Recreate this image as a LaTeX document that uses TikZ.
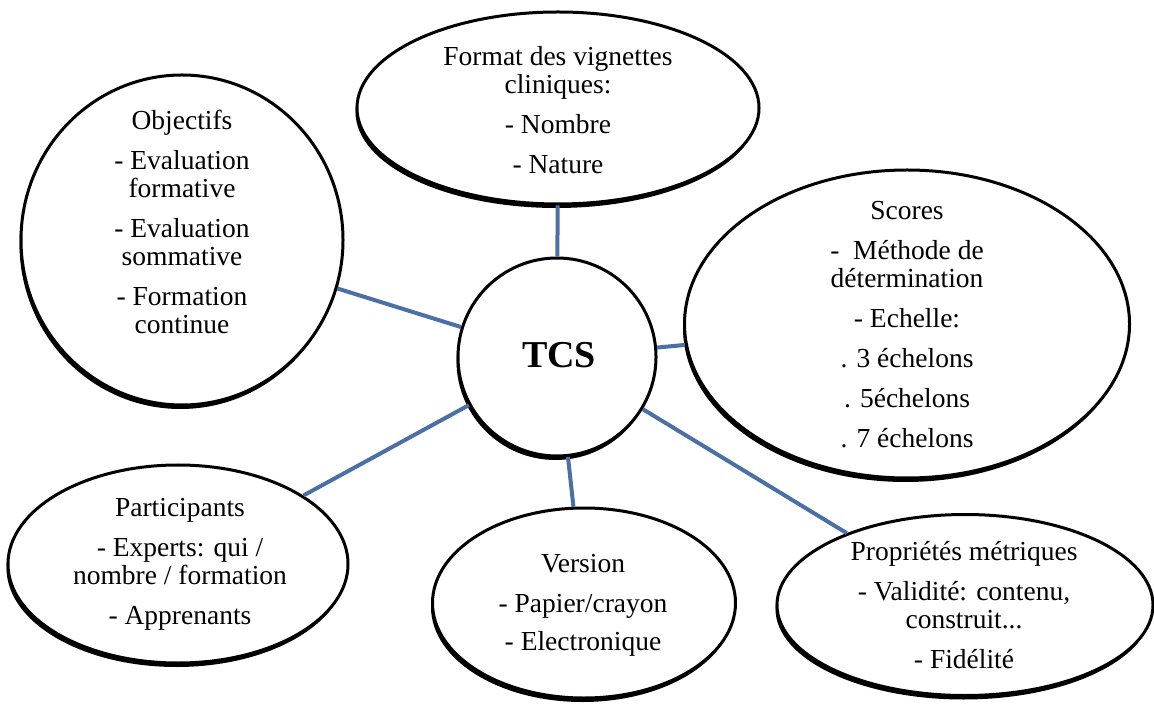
\documentclass[tikz,border=0pt]{standalone}
\usepackage{fontspec}
\setmainfont{Liberation Serif}
\usetikzlibrary{shapes.geometric,shadows}
\definecolor{lienbleu}{RGB}{74,112,165}

\begin{document}
\begin{tikzpicture}[x=0.5pt, y=-0.5pt,
    bulle/.style={shape=ellipse, draw=black, line width=1.5pt, fill=white, inner sep=0pt,
        drop shadow={shadow xshift=-0.75pt, shadow yshift=-2pt, fill=black, opacity=1}},
    texte/.style={align=center, inner sep=0pt, font=\fontsize{13.75}{14}\selectfont},
    lien/.style={draw=lienbleu, line width=2pt}]
    \useasboundingbox (0,0) rectangle (1154,704);
    \node[bulle, minimum width=201pt, minimum height=96pt] at (558,108) (Format) {};
    \node[bulle, minimum width=161pt, minimum height=165pt] at (182,240) (Objectifs) {};
    \node[bulle, minimum width=222.5pt, minimum height=154pt] at (907,324) (Scores) {};
    \node[bulle, minimum width=170pt, minimum height=99pt] at (178,564) (Participants) {};
    \node[bulle, minimum width=151.5pt, minimum height=95pt] at (584,603) (Version) {};
    \node[bulle, minimum width=188pt, minimum height=90.5pt] at (965,605) (Proprietes) {};
    \node[bulle, shape=circle, minimum size=99pt] at (557,357) (TCS) {};
    \node[font=\fontsize{19}{22}\bfseries\selectfont, inner sep=0pt] at (559,355) (TCStexte) {TCS};
    \node[texte] at (558,110) (Formattexte) {Format des vignettes\\cliniques:\\[6pt]- Nombre\\[6pt]- Nature};
    \node[texte] at (182,222) (Objectifstexte) {Objectifs\\[6pt]- Evaluation\\formative\\[6pt]- Evaluation\\sommative\\[6pt]- Formation\\continue};
    \node[texte] at (907,325) (Scorestexte) {Scores\\[6pt]-~ Méthode de\\détermination\\[6pt]- Echelle:\\[6pt]. 3 échelons\\[6pt]. 5échelons\\[6pt]. 7 échelons};
    \node[texte] at (180,564) (Participantstexte) {Participants\\[6pt]- Experts: qui /\\nombre / formation\\[6pt]- Apprenants};
    \node[texte] at (583,605) (Versiontexte) {Version\\[6pt]- Papier/crayon\\[5pt]- Electronique};
    \node[texte] at (964,605) (Proprietestexte) {Propriétés métriques\\[6pt]- Validité: contenu,\\construit...\\[6pt]- Fidélité};
    \path (TCS) edge[lien] (Format);
    \path (TCS) edge[lien] (Objectifs);
    \path (TCS) edge[lien] (Scores);
    \path (TCS) edge[lien] (Participants);
    \path (TCS) edge[lien] (Version);
    \path (TCS) edge[lien] (Proprietes);
\end{tikzpicture}
\end{document}
